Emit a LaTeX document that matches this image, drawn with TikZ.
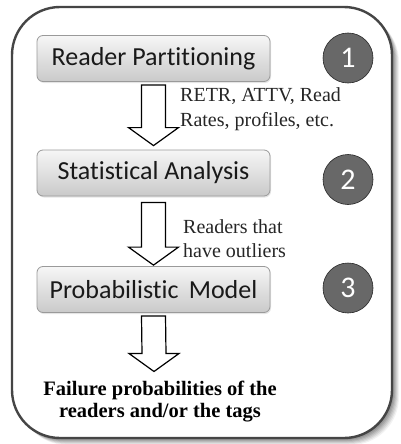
\documentclass[tikz,border=0pt]{standalone}
\usepackage{fontspec}
\setmainfont{Liberation Serif}
\newfontfamily\calfont[Ligatures=NoCommon]{Carlito}
\usetikzlibrary{calc,shadows}
\definecolor{framegray}{HTML}{454545}
\definecolor{circgray}{HTML}{686868}
\definecolor{boxedge}{HTML}{9A9A9A}
\tikzset{
  stepbox/.style={draw=boxedge, line width=0.8pt, rounded corners=6pt,
    top color=gray!7, bottom color=gray!42, minimum width=233pt, minimum height=46pt,
    drop shadow={shadow xshift=1pt, shadow yshift=-1.5pt, opacity=0.2},
    font=\calfont\fontsize{26}{28}\selectfont, text=black!90},
  numcirc/.style={circle, draw=gray!30!black, line width=0.6pt, fill=circgray, minimum size=50pt,
    inner sep=0pt, font=\calfont\fontsize{30}{32}\selectfont, text=white},
  barrow/.style={draw=black, fill=white, line width=1.2pt, line join=miter},
  lbl/.style={inner sep=0pt, align=left, font=\fontsize{20}{25}\selectfont, text=black!85},
}
\newcommand\blockarrow[2]{%
  \draw[barrow] ($(#1)+(-12,0)$) -- ($(#2)+(-12,-18)$) -- ($(#2)+(-25,-18)$) -- (#2)
    -- ($(#2)+(25,-18)$) -- ($(#2)+(12,-18)$) -- ($(#1)+(12,0)$) -- cycle;}
\begin{document}
\begin{tikzpicture}[x=1pt,y=-1pt]
\useasboundingbox (0,0) rectangle (400,444);
% shadow of outer frame
\foreach \i/\o in {1/0.10,2/0.10,3/0.10,4/0.09,5/0.08,6/0.07,7/0.05}{
  \fill[black, opacity=\o, rounded corners=48pt] (12+\i,7+\i) rectangle (392+\i,438+\i);
}
\filldraw[fill=white, draw=framegray, line width=2.4pt, rounded corners=48pt] (12,7) rectangle (392,438);

% boxes
\node[stepbox] (b1) at (153.5,58.5) {Reader Partitioning};
\node[stepbox] (b2) at (153.5,173) {Statistical Analysis};
\node[stepbox] (b3) at (153.5,289.5) {Probabilistic\, Model};

% numbered circles
\node[numcirc] (c1) at (348,58) {1};
\node[numcirc] (c2) at (348,179.5) {2};
\node[numcirc] (c3) at (348,288) {3};

% result text
\node[inner sep=0pt, align=center, anchor=north, font=\bfseries\fontsize{20.5}{22}\selectfont]
  (res) at (160,380.5) {Failure probabilities of the\\readers and/or the tags};

% arrows
\coordinate (a1s) at ($(b1.south)+(0,3)$);
\coordinate (a1e) at ($(b2.north)+(0,-4)$);
\coordinate (a2s) at ($(b2.south)+(0,6)$);
\coordinate (a2e) at ($(b3.north)+(0,-1)$);
\coordinate (a3s) at ($(b3.south)+(0,3)$);
\coordinate (a3e) at ($(res.north)+(-6,-9)$);
\blockarrow{a1s}{a1e}
\blockarrow{a2s}{a2e}
\blockarrow{a3s}{a3e}

% arrow labels
\node[lbl, anchor=north west] (l1) at (180,87.5) {RETR, ATTV, Read\\Rates, profiles, etc.};
\node[lbl, anchor=north west, font=\fontsize{20}{24}\selectfont] (l2) at (183,219.5) {Readers that\\have outliers};
\end{tikzpicture}
\end{document}
